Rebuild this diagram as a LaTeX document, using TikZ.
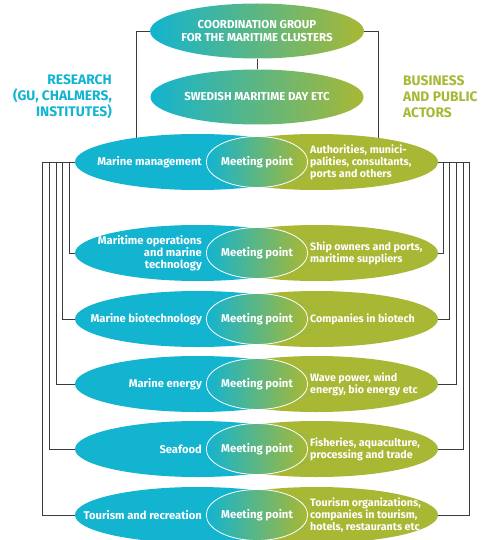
\documentclass[tikz,border=0pt]{standalone}
\usepackage{fontspec}
\setmainfont{Fira Sans}
\usetikzlibrary{shapes.geometric}
\definecolor{cyanc}{RGB}{18,180,208}
\definecolor{olivec}{RGB}{168,184,52}
\definecolor{linec}{RGB}{60,60,60}
\pgfdeclarelayer{back}
\pgfdeclarelayer{bg}
\pgfsetlayers{back,bg,main}
\tikzset{
  lefte/.style={ellipse, fill=cyanc, minimum width=245pt, minimum height=56pt, inner sep=0pt},
  righte/.style={ellipse, fill=olivec, minimum width=243pt, minimum height=56pt, inner sep=0pt},
  meet/.style={ellipse, left color=cyanc, right color=olivec, draw=white, line width=0.8pt,
    minimum width=96pt, minimum height=51pt, inner sep=0pt, text=white, font=\bfseries\fontsize{11.3}{12}\selectfont},
  toptop/.style={ellipse, left color=cyanc, right color=olivec, minimum width=213pt, minimum height=55pt,
    inner sep=0pt, text=white, align=center, font=\bfseries\fontsize{11.5}{13}\selectfont},
  rowtxt/.style={text=white, inner sep=0pt, font=\bfseries\fontsize{11.2}{12}\selectfont},
  rowtxtr/.style={text=white, inner sep=0pt, font=\bfseries\fontsize{10.7}{12}\selectfont},
  sidetxt/.style={inner sep=0pt, font=\bfseries\fontsize{13.8}{16}\selectfont},
  conn/.style={draw=linec, line width=0.9pt}
}
\newcommand\mrow[4]{%
  \node[righte] (#1R) at (316.5,#2) {};
  \node[lefte] (#1L) at (197.5,#2) {};
  \begin{scope}
    \clip (197.5,#2) ellipse [x radius=122.5pt, y radius=28pt];
    \clip (316.5,#2) ellipse [x radius=121.5pt, y radius=28pt];
    \shade[left color=cyanc, right color=olivec] (209,#2-30) rectangle (305,#2+30);
    \fill[olivec] (305,#2-30) rectangle (330,#2+30);
  \end{scope}
  \node[meet] (#1M) at (257,#2) {Meeting point};
  \node[rowtxt, anchor=east, align=right] (#1Ltxt) at (202,#2) {#3};
  \node[rowtxtr, anchor=west, align=left] (#1Rtxt) at (310,#2) {#4};
}
\begin{document}
\begin{tikzpicture}[x=1pt, y=-1pt]
\useasboundingbox (0,0) rectangle (486,540);
\begin{pgfonlayer}{back}
\fill[white] (0,0) rectangle (486,540);
\end{pgfonlayer}

\node[toptop] (cg) at (257,31) {COORDINATION GROUP\\FOR THE MARITIME CLUSTERS};
\node[toptop] (smd) at (257,97) {SWEDISH MARITIME DAY ETC};

\node[sidetxt, text=cyanc, anchor=east, align=right] (research) at (112,97) {RESEARCH\\(GU, CHALMERS,\\INSTITUTES)};
\node[sidetxt, text=olivec, anchor=west, align=left] (business) at (403,97) {BUSINESS\\AND PUBLIC\\ACTORS};

\mrow{r1}{162}{Marine management}{Authorities, munici-\\palities, consultants,\\ports and others}
\mrow{r2}{253}{Maritime operations\\and marine\\technology}{Ship owners and ports,\\maritime suppliers}
\mrow{r3}{319}{Marine biotechnology}{Companies in biotech}
\mrow{r4}{384}{Marine energy}{Wave power, wind\\energy, bio energy etc}
\mrow{r5}{449}{Seafood}{Fisheries, aquaculture,\\processing and trade}
\mrow{r6}{515}{Tourism and recreation}{Tourism organizations,\\companies in tourism,\\hotels, restaurants etc}

\coordinate (tlL) at (136,150);
\coordinate (tlR) at (378,150);

\begin{pgfonlayer}{bg}
  \draw[conn] (cg.south) -- (smd.north);
  \draw[conn] (cg.west) -| (tlL);
  \draw[conn] (cg.east) -| (tlR);
  \draw[conn] (r1L.west) -- ++(-5,0) |- (r2L.west);
  \draw[conn] (r1L.west) -- ++(-12.5,0) |- (r3L.west);
  \draw[conn] (r1L.west) -- ++(-18,0) |- (r4L.west);
  \draw[conn] (r1L.west) -- ++(-25,0) |- (r5L.west);
  \draw[conn] (r1L.west) -- ++(-32,0) |- (r6L.west);
  \draw[conn] (r1R.east) -- ++(5,0) |- (r2R.east);
  \draw[conn] (r1R.east) -- ++(11,0) |- (r3R.east);
  \draw[conn] (r1R.east) -- ++(18,0) |- (r4R.east);
  \draw[conn] (r1R.east) -- ++(25,0) |- (r5R.east);
  \draw[conn] (r1R.east) -- ++(31,0) |- (r6R.east);
\end{pgfonlayer}
\end{tikzpicture}
\end{document}
